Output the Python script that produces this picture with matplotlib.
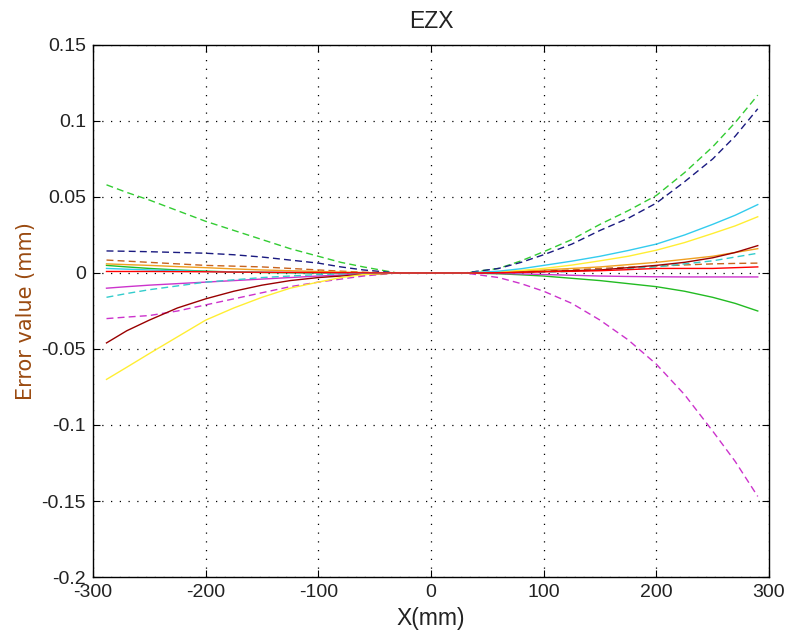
import matplotlib.pyplot as plt

# sample positions along X (mm)
x = [-288, -270, -250, -225, -200, -175, -150, -125, -100, -80, -60, -30, 0,
     30, 60, 80, 100, 125, 150, 175, 200, 225, 250, 270, 290]

# error curves (mm)
green_dash = [0.058, 0.053, 0.048, 0.041, 0.034, 0.028, 0.022, 0.016, 0.011, 0.007, 0.004, 0, 0,
              0, 0.003, 0.008, 0.014, 0.022, 0.032, 0.041, 0.051, 0.066, 0.083, 0.099, 0.117]
navy_dash = [0.0145, 0.0143, 0.0140, 0.0135, 0.0130, 0.0120, 0.0105, 0.0085, 0.0065, 0.004, 0.002, 0, 0,
             0, 0.003, 0.007, 0.012, 0.019, 0.028, 0.036, 0.046, 0.060, 0.075, 0.090, 0.108]
orange_dash = [0.0085, 0.0078, 0.0070, 0.0060, 0.0050, 0.0045, 0.0040, 0.0030, 0.0020, 0.0012, 0.0005, 0, 0,
               0, 0.0003, 0.0007, 0.0012, 0.0020, 0.0030, 0.0038, 0.0045, 0.0053, 0.0060, 0.0063, 0.0065]
green_solid = [0.005, 0.004, 0.003, 0.002, 0.0012, 0.0007, 0.0003, 0.0001, 0.0, 0.0, 0.0, 0, 0,
               0, -0.0005, -0.0012, -0.002, -0.0035, -0.005, -0.007, -0.009, -0.012, -0.016, -0.020, -0.025]
orange_solid = [0.006, 0.0055, 0.005, 0.0042, 0.0035, 0.0027, 0.002, 0.0015, 0.001, 0.0006, 0.0003, 0, 0,
                0, 0.0005, 0.0012, 0.002, 0.003, 0.004, 0.0055, 0.007, 0.009, 0.011, 0.0135, 0.016]
magenta_solid = [-0.010, -0.009, -0.008, -0.007, -0.006, -0.005, -0.004, -0.003, -0.002, -0.0013, -0.0007, 0, 0,
                 0, -0.0003, -0.0006, -0.001, -0.0015, -0.002, -0.0023, -0.0025, -0.0026, -0.0026, -0.0026, -0.0026]
cyan_dash = [-0.016, -0.0135, -0.011, -0.0085, -0.006, -0.0045, -0.003, -0.002, -0.001, -0.0006, -0.0003, 0, 0,
             0, 0.0001, 0.0003, 0.0005, 0.001, 0.002, 0.003, 0.004, 0.006, 0.008, 0.0105, 0.013]
magenta_dash = [-0.030, -0.029, -0.028, -0.025, -0.021, -0.017, -0.013, -0.009, -0.006, -0.004, -0.002, 0, 0,
                0, -0.003, -0.007, -0.012, -0.020, -0.031, -0.044, -0.060, -0.080, -0.104, -0.124, -0.147]
darkred_solid = [-0.046, -0.038, -0.031, -0.023, -0.017, -0.012, -0.008, -0.005, -0.003, -0.002, -0.001, 0, 0,
                 0, 0.0002, 0.0005, 0.001, 0.0015, 0.002, 0.0035, 0.005, 0.007, 0.010, 0.0135, 0.018]
yellow_solid = [-0.070, -0.062, -0.053, -0.042, -0.031, -0.023, -0.016, -0.010, -0.006, -0.003, -0.001, 0, 0,
                0, 0.0008, 0.0017, 0.003, 0.0052, 0.008, 0.011, 0.015, 0.020, 0.026, 0.031, 0.037]
cyan_solid = [0.003, 0.0025, 0.002, 0.0015, 0.001, 0.0007, 0.0005, 0.0003, 0.0002, 0.0001, 0.0, 0, 0,
              0, 0.0012, 0.0028, 0.005, 0.0078, 0.011, 0.0148, 0.019, 0.025, 0.032, 0.038, 0.045]
red_solid = [0.001, 0.001, 0.001, 0.0009, 0.0008, 0.0006, 0.0005, 0.0004, 0.0003, 0.0002, 0.0001, 0, 0,
             0, 0.0002, 0.0005, 0.0008, 0.0011, 0.0015, 0.0022, 0.003, 0.003, 0.003, 0.0035, 0.004]

xticks = [-300, -200, -100, 0, 100, 200, 300]
yticks = [-0.2, -0.15, -0.1, -0.05, 0, 0.05, 0.1, 0.15]
ytick_labels = ["-0.2", "-0.15", "-0.1", "-0.05", "0", "0.05", "0.1", "0.15"]

curvas = [
    (green_dash, "#33cc33", "--"),
    (navy_dash, "#1a1a80", "--"),
    (orange_dash, "#c8641e", "--"),
    (green_solid, "#22bb22", "-"),
    (orange_solid, "#f0a020", "-"),
    (magenta_solid, "#cc33cc", "-"),
    (cyan_dash, "#33cccc", "--"),
    (magenta_dash, "#cc33cc", "--"),
    (darkred_solid, "#990000", "-"),
    (yellow_solid, "#ffee33", "-"),
    (cyan_solid, "#33ccee", "-"),
    (red_solid, "#ff0000", "-"),
]

plt.rcParams["font.family"] = ["Liberation Sans", "DejaVu Sans"]
plt.rcParams["axes.unicode_minus"] = False

fig = plt.figure(figsize=(7.86, 6.38), dpi=100)
ax = fig.add_axes([0.1183, 0.0956, 0.8601, 0.8339])

for valores, color, estilo in curvas:
    if estilo == "--":
        ax.plot(x, valores, color=color, lw=1.0, linestyle=(0, (5, 3)))
    else:
        ax.plot(x, valores, color=color, lw=1.0)

ax.set_xlim(-300, 300)
ax.set_ylim(-0.2, 0.15)
ax.set_xticks(xticks)
ax.set_yticks(yticks)
ax.set_yticklabels(ytick_labels)
ax.tick_params(direction="in", top=True, right=True, labelsize=14, length=5, pad=5,
               labelcolor="#222222")
ax.grid(True, color="black", linestyle=(0, (1, 6)), linewidth=0.9)
for s in ax.spines.values():
    s.set_linewidth(1.0)

ax.set_title("EZX", fontsize=16.5, pad=12, color="#222222")
ax.set_xlabel("X(mm)", fontsize=16.5, labelpad=4, color="#222222")
ax.set_ylabel("Error value (mm)", fontsize=15, color="#9a4a10",
              family=["DejaVu Sans"], labelpad=4)

fig.savefig("out.png", dpi=100)
plt.close(fig)
